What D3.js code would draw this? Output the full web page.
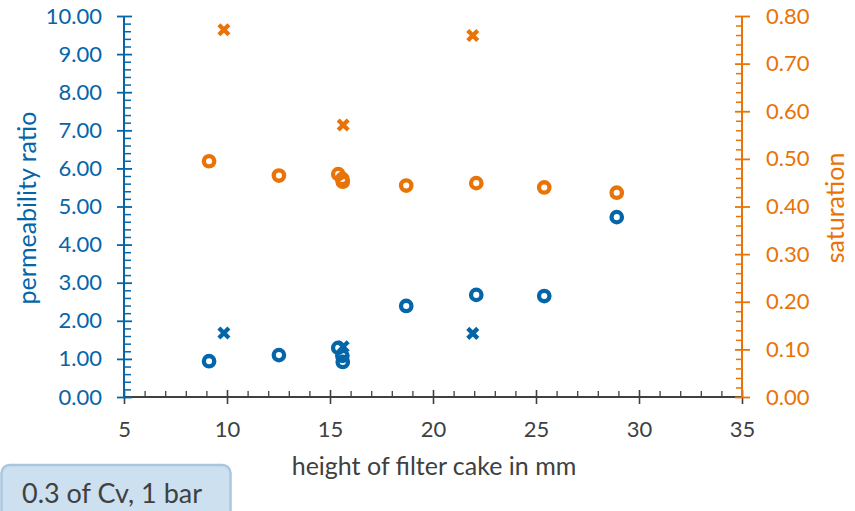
<!DOCTYPE html>
<html>
<head>
<meta charset="utf-8">
<script src="https://cdn.jsdelivr.net/npm/d3@7"></script>
<style>
  body { margin: 0; background: #fff; }
  svg { display: block; font-family: Lato, "Open Sans", sans-serif; }
</style>
</head>
<body>
<div id="chart"></div>
<script>
// measured points, circles = series 1, crosses = series 2
var circleHeight = [9.13, 12.52, 15.40, 15.60, 15.62, 18.70, 22.10, 25.40, 28.92];
var circlePerm = [0.94, 1.10, 1.29, 1.08, 0.92, 2.39, 2.68, 2.65, 4.72];
var circleSat = [0.495, 0.465, 0.468, 0.458, 0.452, 0.444, 0.449, 0.440, 0.429];

var crossHeight = [9.85, 15.64, 21.93];
var crossPerm = [1.68, 1.32, 1.67];
var crossSat = [0.771, 0.571, 0.759];

var xTicks = [5, 10, 15, 20, 25, 30, 35];
var leftTicks = [0, 1, 2, 3, 4, 5, 6, 7, 8, 9, 10];
var rightTicks = [0, 0.1, 0.2, 0.3, 0.4, 0.5, 0.6, 0.7, 0.8];

var blue = '#0565a9';
var orange = '#e97306';
var grey = '#404040';

var w = 855, h = 511;
// plot box (window.top is reserved, so no "top" here)
var mLeft = 124, mRight = 742, mTop = 16, mBottom = 397;

var svg = d3.select('#chart').append('svg').attr('width', w).attr('height', h);

var x = d3.scaleLinear().domain([5, 35]).range([mLeft, mRight]);
var yL = d3.scaleLinear().domain([0, 10]).range([mBottom, mTop]);
var yR = d3.scaleLinear().domain([0, 0.8]).range([mBottom, mTop]);

// minor tick values
var xMinor = d3.range(5, 36, 1).filter(function (d) { return d % 5 != 0; });
var leftMinor = d3.range(0, 50, 1).filter(function (d) { return d % 5 != 0; }).map(function (d) { return d * 0.2; });
var rightMinor = d3.range(0, 40, 1).filter(function (d) { return d % 5 != 0; }).map(function (d) { return d * 0.02; });

function styleAxis(g, col, width) {
  g.selectAll('path, line').attr('stroke', col).attr('stroke-width', width);
  g.select('.domain').remove();
}

//---- x axis
var gx = svg.append('g').attr('transform', 'translate(0,' + mBottom + ')');
gx.append('g').call(d3.axisBottom(x).tickValues(xTicks).tickSize(7).tickPadding(17).tickFormat(d3.format('d')))
  .call(styleAxis, grey, 1.6)
  .selectAll('text').attr('fill', grey).style('font-size', '22px').style('font-family', 'Lato');
gx.append('g').call(d3.axisTop(x).tickValues(xTicks).tickSize(7).tickFormat(''))
  .call(styleAxis, grey, 1.6);
gx.append('g').call(d3.axisTop(x).tickValues(xMinor).tickSize(6).tickFormat(''))
  .call(styleAxis, grey, 1.3);
gx.append('line').attr('x1', mLeft).attr('x2', mRight).attr('stroke', grey).attr('stroke-width', 1.8);

//---- left axis
var gl = svg.append('g').attr('transform', 'translate(' + mLeft + ',0)');
gl.append('g').call(d3.axisLeft(yL).tickValues(leftTicks).tickSize(7).tickPadding(15).tickFormat(d3.format('.2f')))
  .call(styleAxis, blue, 1.8)
  .selectAll('text').attr('fill', blue).style('font-size', '22px').style('font-family', 'Lato');
gl.append('g').call(d3.axisRight(yL).tickValues(leftTicks).tickSize(8).tickFormat(''))
  .call(styleAxis, blue, 1.8);
gl.append('g').call(d3.axisRight(yL).tickValues(leftMinor).tickSize(7).tickFormat(''))
  .call(styleAxis, blue, 1.5);
gl.append('line').attr('y1', mTop).attr('y2', mBottom).attr('stroke', blue).attr('stroke-width', 2);

//---- right axis
var gr = svg.append('g').attr('transform', 'translate(' + mRight + ',0)');
gr.append('g').call(d3.axisRight(yR).tickValues(rightTicks).tickSize(8).tickPadding(16).tickFormat(d3.format('.2f')))
  .call(styleAxis, orange, 1.8)
  .selectAll('text').attr('fill', orange).style('font-size', '22px').style('font-family', 'Lato');
gr.append('g').call(d3.axisLeft(yR).tickValues(rightTicks).tickSize(7).tickFormat(''))
  .call(styleAxis, orange, 1.8);
gr.append('g').call(d3.axisLeft(yR).tickValues(rightMinor).tickSize(6).tickFormat(''))
  .call(styleAxis, orange, 1.5);
gr.append('line').attr('y1', mTop).attr('y2', mBottom).attr('stroke', orange).attr('stroke-width', 2);

//---- axis titles
svg.append('text').attr('x', 434).attr('y', 475).attr('text-anchor', 'middle')
  .attr('fill', grey).style('font-size', '25px').text('height of filter cake in mm');
svg.append('text').attr('transform', 'translate(36,208) rotate(-90)').attr('text-anchor', 'middle')
  .attr('fill', blue).style('font-size', '25px').text('permeability ratio');
svg.append('text').attr('transform', 'translate(844,208) rotate(-90)').attr('text-anchor', 'middle')
  .attr('fill', orange).style('font-size', '25px').text('saturation');

//---- markers
var xShape = 'M-5,-5L5,5M-5,5L5,-5';

function drawCircles(vals, yScale, col) {
  svg.append('g').selectAll('circle')
    .data(circleHeight)
    .enter()
    .append('circle')
    .attr('cx', function (d) { return x(d); })
    .attr('cy', function (d, i) { return yScale(vals[i]); })
    .attr('r', 5.2)
    .attr('fill', 'none')
    .attr('stroke', col)
    .attr('stroke-width', 4.3);
}
function drawCrosses(vals, yScale, col) {
  svg.append('g').selectAll('path')
    .data(crossHeight)
    .enter()
    .append('path')
    .attr('d', xShape)
    .attr('transform', function (d, i) { return 'translate(' + x(d) + ',' + yScale(vals[i]) + ')'; })
    .attr('fill', 'none')
    .attr('stroke', col)
    .attr('stroke-width', 4.3);
}
drawCircles(circleSat, yR, orange);
drawCrosses(crossSat, yR, orange);
drawCircles(circlePerm, yL, blue);
drawCrosses(crossPerm, yL, blue);

//---- label box bottom left
svg.append('rect').attr('x', 1.5).attr('y', 465).attr('width', 229).attr('height', 60).attr('rx', 8)
  .attr('fill', '#cce0f0').attr('stroke', '#a9c6df').attr('stroke-width', 2.5);
svg.append('text').attr('x', 22).attr('y', 503).attr('fill', grey).style('font-size', '27px').text('0.3 of Cv, 1 bar');
</script>
</body>
</html>
